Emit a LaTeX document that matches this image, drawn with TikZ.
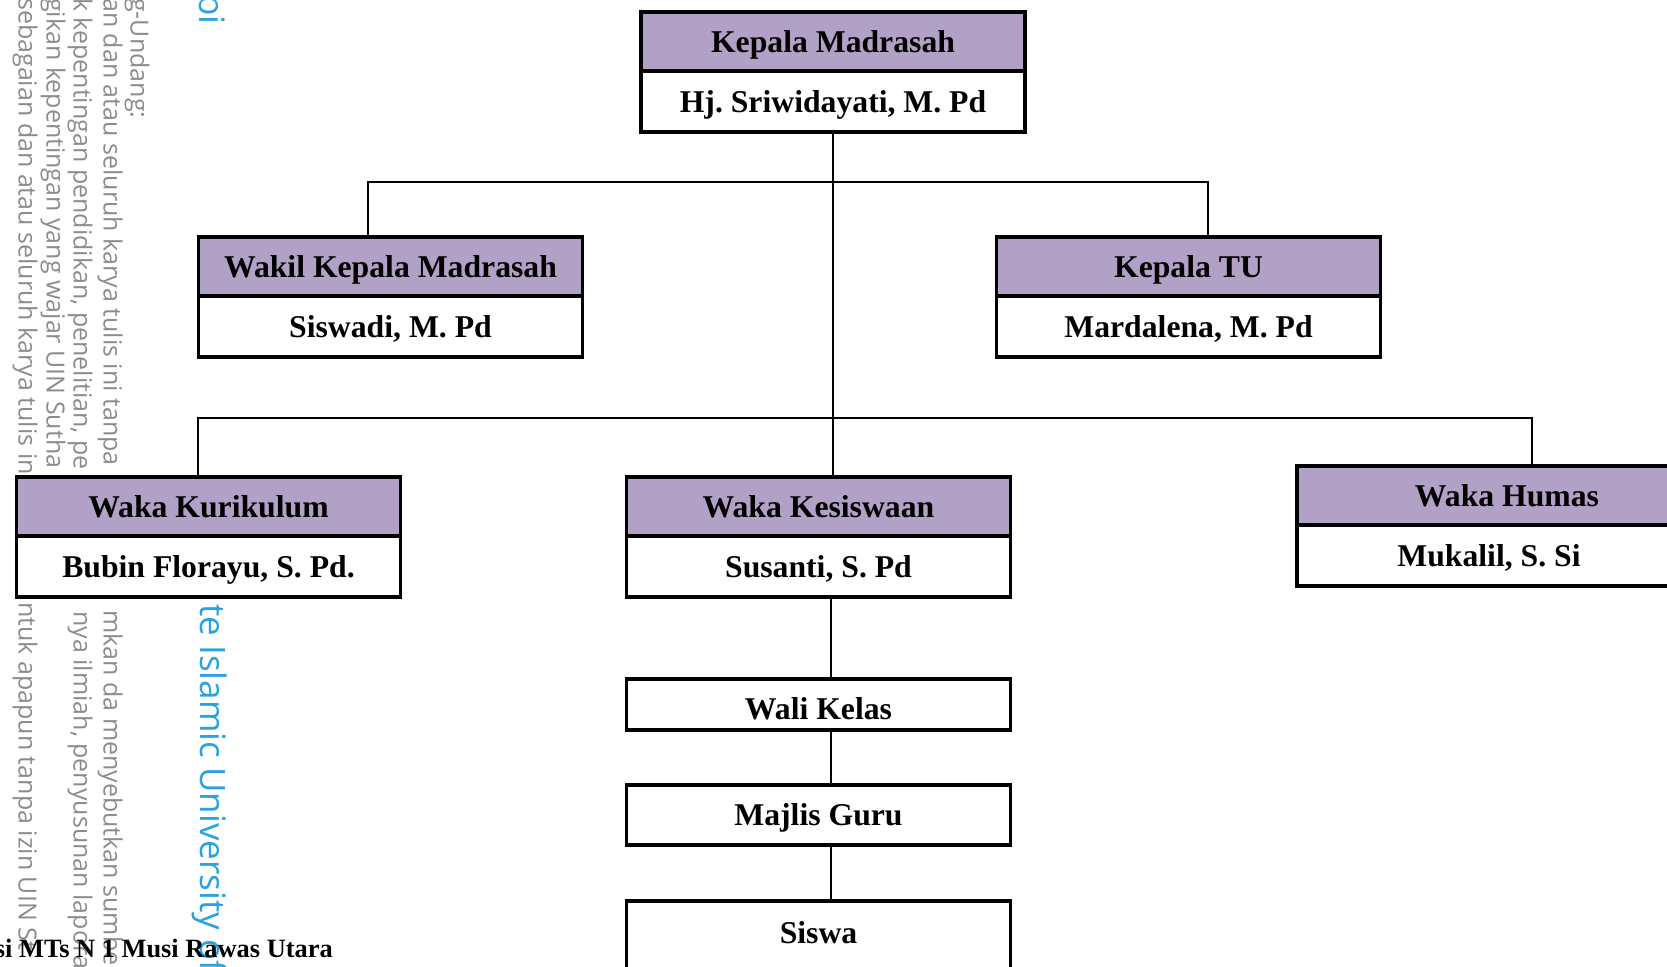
\documentclass[tikz,border=0pt]{standalone}
\usepackage{fontspec}
\setmainfont{Liberation Serif}
\newfontfamily\wmfont{Open Sans}
\usepackage{tikz}
\usetikzlibrary{positioning, calc}
\definecolor{ungu}{HTML}{B2A1C7}
\definecolor{abu}{HTML}{8C8C8C}
\definecolor{biru}{HTML}{2AA2DD}
\frenchspacing

\begin{document}
\begin{tikzpicture}[x=1pt, y=-1pt,
    jabatan/.style={rectangle, draw=black, line width=3.5pt, fill=ungu, text=black, minimum width=384pt, minimum height=59pt, outer sep=0pt, inner sep=0pt, text height=21.5pt, text depth=0pt, font=\fontsize{31.7}{36}\selectfont\bfseries},
    pejabat/.style={jabatan, fill=white, minimum height=61pt},
    garis/.style={line width=2pt},
    tanda/.style={rotate=-90, anchor=west, inner sep=0pt, text=abu, font=\wmfont\fontsize{25}{29}\selectfont}]
    \useasboundingbox (0,0) rectangle (1667,966);%ukuran halaman
    % tulisan samar di pinggir kiri
    \node (wm1) [tanda] at (137,-2) {g-Undang:};
    \node (wm2) [tanda] at (110,-2) {an dan atau seluruh karya tulis ini tanpa};
    \node (wm3) [tanda] at (80,-2) {k kepentingan pendidikan, penelitian, pe};
    \node (wm4) [tanda] at (53,-2) {gikan kepentingan yang wajar UIN Sutha};
    \node (wm5) [tanda] at (25,-2) {sebagaian dan atau seluruh karya tulis in};
    \node (wm6) [tanda] at (110,610) {mkan da menyebutkan sumber};
    \node (wm7) [tanda] at (80,611) {nya ilmiah, penyusunan laporan};
    \node (wm8) [tanda] at (25,602) {ntuk apapun tanpa izin UIN St};
    \node (wm9) [tanda, text=biru, font=\wmfont\fontsize{35}{40}\selectfont] at (210,604) {te Islamic University of};
    \node (wm10) [tanda, anchor=east, text=biru, font=\wmfont\fontsize{35}{40}\selectfont] at (213,25) {bi};
    % kotak jabatan
    \node (km) [jabatan] at (833,41.5) {Kepala Madrasah};%kepala madrasah
    \node (kmN) [pejabat, below=0pt of km] {Hj. Sriwidayati, M. Pd};
    \node (wakil) [jabatan] at (390.5,266.5) {Wakil Kepala Madrasah};%wakil kepala
    \node (wakilN) [pejabat, below=0pt of wakil] {Siswadi, M. Pd};
    \node (tu) [jabatan] at (1188.5,266.5) {Kepala TU};%kepala TU
    \node (tuN) [pejabat, below=0pt of tu] {Mardalena, M. Pd};
    \node (kur) [jabatan] at (208.5,506.5) {Waka Kurikulum};%waka kurikulum
    \node (kurN) [pejabat, below=0pt of kur] {Bubin Florayu, S. Pd.};
    \node (kes) [jabatan] at (818.5,506.5) {Waka Kesiswaan};%waka kesiswaan
    \node (kesN) [pejabat, below=0pt of kes] {Susanti, S. Pd};
    \node (hum) [jabatan] at (1489,495.5) {\hspace*{36pt}Waka Humas};%waka humas
    \node (humN) [pejabat, below=0pt of hum] {Mukalil, S. Si};
    \node (wali) [pejabat, minimum height=51pt, text height=30.5pt] at (818.5,704.5) {Wali Kelas};%wali kelas
    \node (guru) [pejabat, minimum height=60pt, below=55pt of wali] {Majlis Guru};%majlis guru
    \node (siswa) [pejabat, minimum height=72pt, text height=12.5pt, below=56pt of guru] {Siswa};%siswa
    % garis penghubung
    \draw[garis] (kmN.south) -- (kmN.south |- kes.north);%garis tengah
    \draw[garis] ([xshift=-22.5pt]wakil.north) -- ++(0,-55) -| ([xshift=19.5pt]tu.north);%cabang pertama
    \draw[garis] ([xshift=-10.5pt]kur.north) -- ++(0,-59) -| ([xshift=43pt]hum.north);%cabang kedua
    \draw[garis] ([xshift=12.5pt]kesN.south) -- ([xshift=12.5pt]wali.north);
    \draw[garis] ([xshift=12.5pt]wali.south) -- ([xshift=12.5pt]guru.north);
    \draw[garis] ([xshift=12.5pt]guru.south) -- ([xshift=12.5pt]siswa.north);
    \node (judul) [anchor=base east, inner sep=0pt, font=\fontsize{26.4}{30}\selectfont\bfseries] at (333,957) {si MTs N 1 Musi Rawas Utara};%judul bawah
\end{tikzpicture}
\end{document}
